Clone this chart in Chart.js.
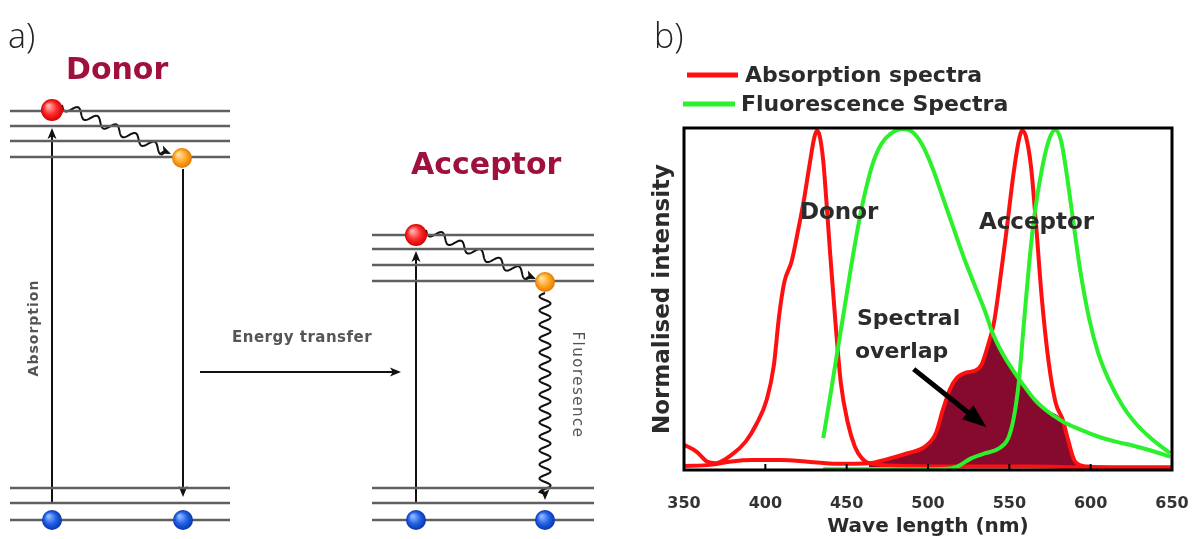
<!DOCTYPE html>
<html><head><meta charset="utf-8">
<script src="https://cdn.jsdelivr.net/npm/chart.js@4.4.1/dist/chart.umd.min.js"></script>
<style>
html,body{margin:0;padding:0;background:#fff;width:1193px;height:539px;overflow:hidden}
#left{position:absolute;left:0;top:0}
#right{position:absolute;left:640px;top:0}
</style></head><body>
<canvas id="left" width="640" height="539"></canvas>
<canvas id="right" width="553" height="539"></canvas>
<script>
// ---------- Panel a) energy diagram (schematic units = px of the panel) ----------
const donorExcitedLevels = [111, 126, 141, 157];
const acceptorExcitedLevels = [235, 249, 265, 281];
const groundLevels = [488, 503, 520];
const donorLevelSpan = [10, 230];
const acceptorLevelSpan = [372, 594];
const ballX = [52, 182, 52, 183, 416, 545, 416, 545];
const ballY = [110, 158, 520, 520, 235, 282, 520, 520];
const ballKinds = ['red', 'orange', 'blue', 'blue', 'red', 'orange', 'blue', 'blue'];

// ---------- Panel b) spectra ----------
const xTicks = [350, 400, 450, 500, 550, 600, 650];
const legendLabels = ['Absorption spectra', 'Fluorescence Spectra'];

const donorAbsNm  = [350,357.6,364.1,369.5,379.2,387.9,394.4,400.9,405.2,408.5,411.7,416.1,420.4,423.6,426.9,430.1,431.7,433.4,435.6,437.7,439.9,443.1,446.4,450.7,455.0,459.4,463.7,485.4,517.9,561.2,604.5,650];
const donorAbsVal = [0.074,0.054,0.025,0.020,0.044,0.083,0.133,0.206,0.305,0.452,0.550,0.609,0.707,0.786,0.884,0.972,0.992,0.977,0.904,0.776,0.629,0.432,0.255,0.138,0.069,0.034,0.020,0.012,0.010,0.010,0.008,0.008];

const acceptorAbsNm  = [350,366.2,379.2,392.2,409.6,424.7,444.2,463.7,474.5,487.5,498.4,504.9,509.2,513.5,517.9,523.3,528.7,533.0,537.4,540.6,543.9,548.2,552.5,555.8,557.9,560.1,563.4,566.6,569.8,574.2,578.5,582.8,586.1,590.4,598.0,626.2,650];
const acceptorAbsVal = [0.012,0.015,0.025,0.029,0.029,0.025,0.018,0.020,0.031,0.049,0.069,0.108,0.177,0.236,0.270,0.285,0.290,0.309,0.373,0.432,0.540,0.697,0.864,0.963,0.992,0.977,0.884,0.707,0.511,0.314,0.196,0.147,0.088,0.025,0.010,0.005,0.005];

const donorFluNm  = [435.6,439.9,444.2,448.6,452.9,457.2,461.5,465.9,471.3,476.7,484.3,490.8,496.2,502.7,509.2,515.7,522.2,528.7,535.2,539.5,546.0,552.5,559.0,565.5,572.0,582.8,593.7,604.5,615.3,626.2,637.0,648.9];
const donorFluVal = [0.093,0.216,0.344,0.472,0.599,0.717,0.815,0.894,0.953,0.982,0.997,0.987,0.953,0.884,0.796,0.707,0.619,0.540,0.462,0.403,0.339,0.290,0.246,0.206,0.177,0.142,0.118,0.098,0.083,0.071,0.057,0.039];

const acceptorFluNm  = [435.6,474.5,509.2,517.9,526.5,535.2,543.9,549.3,552.5,555.8,559.0,562.3,565.5,569.8,574.2,578.1,581.8,585.0,589.3,593.7,599.1,604.5,611.0,619.7,628.3,637.0,648.9];
const acceptorFluVal = [0.002,0.002,0.003,0.010,0.034,0.049,0.064,0.093,0.147,0.255,0.432,0.609,0.747,0.874,0.963,0.994,0.963,0.874,0.727,0.580,0.442,0.344,0.265,0.187,0.133,0.093,0.049];

const overlapNm  = [463.7,474.5,487.5,498.4,504.9,509.2,513.5,517.9,523.3,528.7,533.0,537.4,539.5,546.0,552.5,559.0,565.5,572.0,579.6,582.8,586.1,590.4,592.6];
const overlapVal = [0.020,0.031,0.049,0.069,0.108,0.177,0.236,0.270,0.285,0.290,0.309,0.373,0.400,0.339,0.290,0.246,0.206,0.177,0.160,0.142,0.088,0.025,0.010];

const pts = (xs, ys) => xs.map((x, i) => ({x: x, y: ys[i]}));
const setLS = (ctx, v) => { if ('letterSpacing' in ctx) ctx.letterSpacing = v; };

// ---------- sphere images for the particles ----------
function sphere(r, c0, c1, c2) {
  const cv = document.createElement('canvas');
  cv.width = cv.height = 2 * r + 2;
  const g = cv.getContext('2d');
  const gr = g.createRadialGradient(r * 0.75, r * 0.7, r * 0.1, r + 1, r + 1, r);
  gr.addColorStop(0, c0); gr.addColorStop(0.55, c1); gr.addColorStop(1, c2);
  g.fillStyle = gr; g.beginPath(); g.arc(r + 1, r + 1, r, 0, Math.PI * 2); g.fill();
  return cv;
}
const sphereImgs = {
  red: sphere(11, '#ffb0b0', '#ff2a2a', '#d40000'),
  orange: sphere(10, '#ffe0a0', '#ffa726', '#e07a00'),
  blue: sphere(10, '#8fb8ff', '#2060e8', '#0a35a8')
};

function levelSegments() {
  const out = [];
  donorExcitedLevels.concat(groundLevels).forEach(y => {
    out.push({x: donorLevelSpan[0], y: y}, {x: donorLevelSpan[1], y: y}, {x: donorLevelSpan[1], y: null});
  });
  acceptorExcitedLevels.concat(groundLevels).forEach(y => {
    out.push({x: acceptorLevelSpan[0], y: y}, {x: acceptorLevelSpan[1], y: y}, {x: acceptorLevelSpan[1], y: null});
  });
  return out;
}

function head(ctx, x, y, ang, len, hw) {
  ctx.save(); ctx.translate(x, y); ctx.rotate(ang);
  ctx.beginPath(); ctx.moveTo(0, 0); ctx.lineTo(-len, -hw); ctx.lineTo(-len * 0.75, 0); ctx.lineTo(-len, hw); ctx.closePath();
  ctx.fill(); ctx.restore();
}

const diagramPlugin = {
  id: 'diagram',
  beforeDatasetsDraw(chart, args, opts) {
    const {ctx, scales: {x, y}} = chart;
    const P = (p) => [x.getPixelForValue(p[0]), y.getPixelForValue(p[1])];
    ctx.save();
    ctx.strokeStyle = '#111'; ctx.fillStyle = '#111'; ctx.lineWidth = 2;
    opts.straight.forEach(a => {
      const [x0, y0] = P(a.from), [x1, y1] = P(a.to);
      const ang = Math.atan2(y1 - y0, x1 - x0);
      ctx.beginPath(); ctx.moveTo(x0, y0); ctx.lineTo(x1 - Math.cos(ang) * 6, y1 - Math.sin(ang) * 6); ctx.stroke();
      head(ctx, x1, y1, ang, 11, 4.5);
    });
    opts.wavy.forEach(a => {
      const [x0, y0] = P(a.from), [x1, y1] = P(a.to);
      const dx = x1 - x0, dy = y1 - y0, L = Math.hypot(dx, dy);
      const ux = dx / L, uy = dy / L, nx = -uy, ny = ux;
      const Lw = L - 8;
      ctx.beginPath();
      for (let t = 0; t <= Lw; t += 0.5) {
        const o = a.amp * Math.sin(2 * Math.PI * t / a.wl);
        const px = x0 + ux * t + nx * o, py = y0 + uy * t + ny * o;
        if (t === 0) ctx.moveTo(px, py); else ctx.lineTo(px, py);
      }
      ctx.lineTo(x1 - ux * 6, y1 - uy * 6);
      ctx.stroke();
      head(ctx, x1, y1, Math.atan2(dy, dx), 11, 4.5);
    });
    ctx.restore();
  },
  afterDatasetsDraw(chart, args, opts) {
    const {ctx, scales: {x, y}} = chart;
    ctx.save();
    opts.texts.forEach(t => {
      ctx.save();
      ctx.translate(x.getPixelForValue(t.at[0]), y.getPixelForValue(t.at[1]));
      ctx.rotate(t.rot || 0);
      ctx.font = t.font; ctx.fillStyle = t.color;
      setLS(ctx, t.ls || '0px');
      ctx.textAlign = t.align || 'left'; ctx.textBaseline = 'middle';
      ctx.fillText(t.text, 0, 0);
      ctx.restore();
    });
    ctx.restore();
  }
};

new Chart(document.getElementById('left'), {
  type: 'line',
  data: {
    datasets: [
      {data: levelSegments(), borderColor: '#5f5f5f', borderWidth: 2.5, pointRadius: 0, spanGaps: false, order: 2, clip: false},
      {data: pts(ballX, ballY), showLine: false, pointStyle: ballKinds.map(k => sphereImgs[k]), pointRadius: 11, order: 1, clip: false}
    ]
  },
  options: {
    responsive: false, animation: false, events: [],
    layout: {padding: 0, autoPadding: false},
    scales: {
      x: {type: 'linear', min: 0, max: 640, display: false},
      y: {type: 'linear', min: 0, max: 539, reverse: true, display: false}
    },
    plugins: {
      legend: {display: false}, tooltip: {enabled: false},
      diagram: {
        straight: [
          {from: [52, 503], to: [52, 128]},
          {from: [183, 169], to: [183, 497]},
          {from: [200, 372], to: [401, 372]},
          {from: [416, 503], to: [416, 251]}
        ],
        wavy: [
          {from: [62, 105], to: [171, 154], amp: 4.5, wl: 21},
          {from: [426, 230], to: [536, 279], amp: 4.5, wl: 21},
          {from: [545, 293], to: [545, 500], amp: 5.5, wl: 14}
        ],
        texts: [
          {text: 'a)', at: [8, 38], font: '300 34px "Open Sans"', color: '#222'},
          {text: 'Donor', at: [66, 71], font: 'bold 30px "DejaVu Sans"', color: '#a0103c'},
          {text: 'Acceptor', at: [411, 166], font: 'bold 30px "DejaVu Sans"', color: '#a0103c'},
          {text: 'Absorption', at: [34, 328], rot: -Math.PI / 2, align: 'center', font: 'bold 14px "DejaVu Sans"', color: '#555', ls: '1px'},
          {text: 'Energy transfer', at: [232, 338], font: 'bold 15px "DejaVu Sans"', color: '#555', ls: '0.5px'},
          {text: 'Fluoresence', at: [577, 385], rot: Math.PI / 2, align: 'center', font: '15px "DejaVu Sans"', color: '#555', ls: '1.5px'}
        ]
      }
    }
  },
  plugins: [diagramPlugin]
});

// ---------- right chart plugins ----------
const spectraDeco = {
  id: 'spectraDeco',
  afterDatasetsDraw(chart, args, opts) {
    const {ctx, chartArea: a, scales: {x, y}} = chart;
    ctx.save();
    // inward tick marks
    ctx.strokeStyle = '#000'; ctx.lineWidth = 2;
    xTicks.forEach(v => {
      const px = x.getPixelForValue(v);
      ctx.beginPath(); ctx.moveTo(px, a.bottom); ctx.lineTo(px, a.bottom - 6); ctx.stroke();
    });
    // frame
    ctx.lineWidth = 3; ctx.strokeRect(a.left, a.top, a.right - a.left, a.bottom - a.top);
    // annotations
    ctx.fillStyle = '#2b2b2b'; ctx.textAlign = 'left'; ctx.textBaseline = 'middle';
    opts.notes.forEach(n => {
      ctx.font = n.font;
      ctx.fillText(n.text, x.getPixelForValue(n.at[0]), y.getPixelForValue(n.at[1]));
    });
    // overlap arrow
    const ar = opts.arrow;
    const x0 = x.getPixelForValue(ar.from[0]), y0 = y.getPixelForValue(ar.from[1]);
    const x1 = x.getPixelForValue(ar.to[0]), y1 = y.getPixelForValue(ar.to[1]);
    const ang = Math.atan2(y1 - y0, x1 - x0);
    ctx.strokeStyle = '#000'; ctx.fillStyle = '#000'; ctx.lineWidth = 5;
    ctx.beginPath(); ctx.moveTo(x0, y0); ctx.lineTo(x1 - Math.cos(ang) * 16, y1 - Math.sin(ang) * 16); ctx.stroke();
    ctx.save(); ctx.translate(x1, y1); ctx.rotate(ang);
    ctx.beginPath(); ctx.moveTo(0, 0); ctx.lineTo(-24, -9); ctx.lineTo(-24, 9); ctx.closePath(); ctx.fill();
    ctx.restore();
    ctx.restore();
  },
  afterDraw(chart, args, opts) {
    const {ctx} = chart;
    ctx.save();
    // panel label
    ctx.font = '300 34px "Open Sans"'; ctx.fillStyle = '#222'; ctx.textBaseline = 'middle'; ctx.textAlign = 'left';
    ctx.fillText('b)', 14, 38);
    // legend
    opts.legend.forEach((l, i) => {
      ctx.strokeStyle = l.color; ctx.lineWidth = 5; ctx.lineCap = 'butt';
      ctx.beginPath(); ctx.moveTo(l.line[0], l.y); ctx.lineTo(l.line[1], l.y); ctx.stroke();
      ctx.font = 'bold 22px "DejaVu Sans"'; ctx.fillStyle = '#2b2b2b';
      ctx.fillText(legendLabels[i], l.textX, l.y + 1);
    });
    ctx.restore();
  }
};

const RED = '#ff1010', GREEN = '#2cf02c';
const lineDs = (data, color, order) => ({
  data: data, borderColor: color, borderWidth: 4, pointRadius: 0, fill: false,
  cubicInterpolationMode: 'monotone', order: order
});

new Chart(document.getElementById('right'), {
  type: 'line',
  data: {
    datasets: [
      {data: pts(overlapNm, overlapVal), borderWidth: 0, borderColor: 'rgba(0,0,0,0)', backgroundColor: '#86092e',
       fill: {value: 0.008}, pointRadius: 0, cubicInterpolationMode: 'monotone', order: 10},
      lineDs(pts(donorAbsNm, donorAbsVal), RED, 4),
      lineDs(pts(acceptorAbsNm, acceptorAbsVal), RED, 3),
      lineDs(pts(donorFluNm, donorFluVal), GREEN, 2),
      lineDs(pts(acceptorFluNm, acceptorFluVal), GREEN, 1)
    ]
  },
  options: {
    responsive: false, animation: false, events: [],
    layout: {padding: {top: 128, right: 21, left: 0, bottom: 0}, autoPadding: false},
    scales: {
      x: {
        type: 'linear', min: 350, max: 650,
        afterBuildTicks: s => { s.ticks = xTicks.map(v => ({value: v})); },
        afterFit: s => { s.height = 69; s.paddingLeft = 0; s.paddingRight = 0; },
        grid: {display: false}, border: {display: false},
        ticks: {autoSkip: false, maxRotation: 0, padding: 16, color: '#333', font: {family: 'DejaVu Sans', size: 16, weight: 'bold'}},
        title: {display: true, text: 'Wave length (nm)', color: '#2b2b2b', padding: {top: 0, bottom: 0},
                font: {family: 'DejaVu Sans', size: 20, weight: 'bold'}}
      },
      y: {
        type: 'linear', min: 0, max: 1,
        afterFit: s => { s.width = 44; s.paddingTop = 0; s.paddingBottom = 0; },
        grid: {display: false}, border: {display: false},
        ticks: {display: false},
        title: {display: true, text: 'Normalised intensity', color: '#2b2b2b', padding: {top: 9, bottom: 0},
                font: {family: 'DejaVu Sans', size: 23, weight: 'bold'}}
      }
    },
    plugins: {
      legend: {display: false}, tooltip: {enabled: false},
      spectraDeco: {
        legend: [
          {color: RED, line: [47, 98], textX: 105, y: 75},
          {color: GREEN, line: [43, 95], textX: 101, y: 104}
        ],
        notes: [
          {text: 'Donor', at: [421.3, 0.751], font: 'bold 23px "DejaVu Sans"'},
          {text: 'Acceptor', at: [531.3, 0.722], font: 'bold 23px "DejaVu Sans"'},
          {text: 'Spectral', at: [456.3, 0.442], font: 'bold 22px "DejaVu Sans"'},
          {text: 'overlap', at: [455.1, 0.345], font: 'bold 22px "DejaVu Sans"'}
        ],
        arrow: {from: [491.2, 0.295], to: [536, 0.125]}
      }
    }
  },
  plugins: [spectraDeco]
});
</script></body></html>
